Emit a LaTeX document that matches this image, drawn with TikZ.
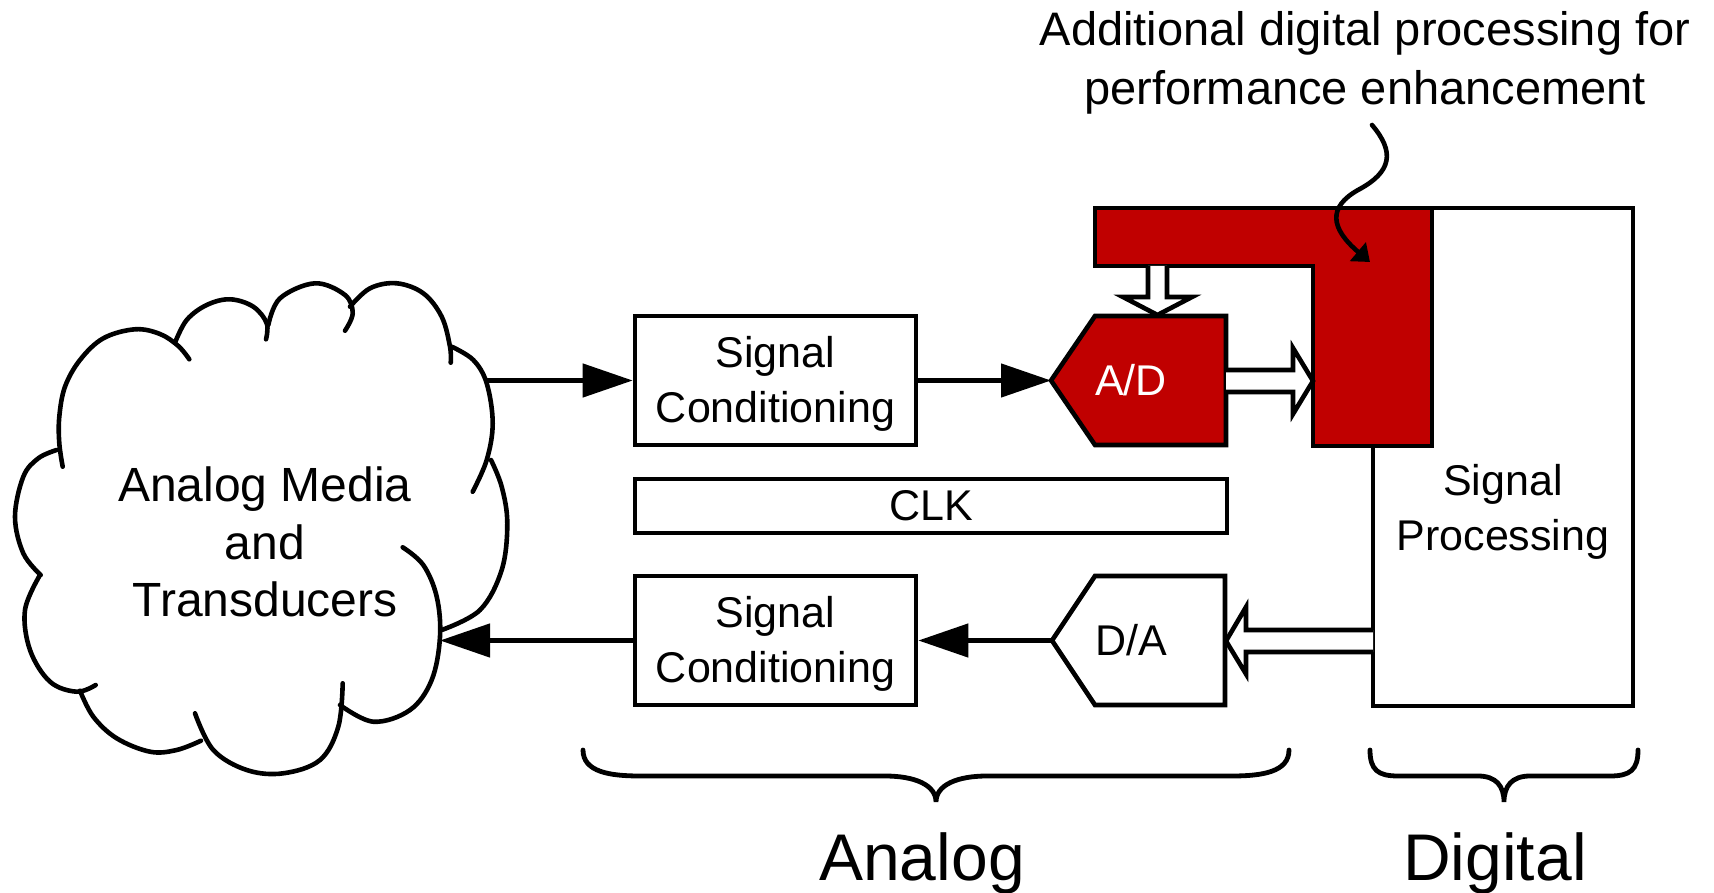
\documentclass[tikz,border=0pt]{standalone}
\usepackage{fontspec}
\setmainfont{Liberation Sans}
\usetikzlibrary{arrows.meta}
\definecolor{convred}{RGB}{192,0,0}
\tikzset{
  px/.style={x=0.5pt,y=-0.5pt},
  lw/.style={line width=2.3pt},
  box/.style={draw, fill=white, lw, inner sep=0pt},
  txt/.style={font=\fontsize{21.5}{27.5}\selectfont, align=center, inner sep=0pt},
  cloudtxt/.style={font=\fontsize{24}{28.75}\selectfont, align=center, inner sep=0pt},
  notetxt/.style={font=\fontsize{23.5}{29.5}\selectfont, align=center, inner sep=0pt},
  bigtxt/.style={font=\fontsize{33}{40}\selectfont, inner sep=0pt},
  signalarrow/.style={lw, -{Triangle[length=25pt,width=16.5pt]}},
  widearrow/.style={draw, fill=white, lw, line join=miter},
  blockshape/.style={draw, lw, line join=miter},
  bracepath/.style={line width=2.4pt, line cap=round},
  cloudline/.style={lw, line cap=round},
}
\begin{document}
\begin{tikzpicture}[px]
\useasboundingbox (0,0) rectangle (1714,893);

% ---------- cloud: analog media and transducers ----------
\begin{scope}[cloudline]
\draw plot[smooth,tension=0.6] coordinates {(62.7,466.7) (59.3,443.3) (59.3,416.7) (65,386.7) (80,360) (103.3,338.3) (135,329.3) (160,334) (178.3,346) (189.3,359.3)};
\draw plot[smooth,tension=0.6] coordinates {(175,342.7) (186.7,320) (206.7,305) (230,299.3) (253.3,306.7) (266.7,323.3) (266,339.3)};
\draw plot[smooth,tension=0.6] coordinates {(268.3,325) (280,298.3) (315,283.3) (345,295) (352.7,313.3) (345,330.7)};
\draw plot[smooth,tension=0.6] coordinates {(350,306.7) (370,288.3) (396.7,283.3) (423.3,293.3) (441.7,316.7) (450,346.7) (450.7,362.7)};
\draw plot[smooth,tension=0.6] coordinates {(451.7,346.7) (473.3,360) (486.7,383.3) (492.7,423.3) (486.7,460) (472.7,491.7)};
\draw plot[smooth,tension=0.6] coordinates {(491,460) (501.7,486.7) (507.3,523.3) (501.7,570) (480,610) (441.7,630)};
\draw plot[smooth,tension=0.6] coordinates {(402.7,547.3) (423.3,565) (436.7,596.7) (440,636.7) (431.7,680) (410,710) (373.3,721.7) (340,705)};
\draw plot[smooth,tension=0.6] coordinates {(342.7,683.3) (338.3,726.7) (320,760) (283.3,773.3) (246.7,770) (213.3,750) (195,713.3)};
\draw plot[smooth,tension=0.6] coordinates {(201,740.7) (176.7,750) (150,751.7) (116.7,738.3) (93.3,716.7) (80,690.7)};
\draw plot[smooth,tension=0.6] coordinates {(95.7,685) (76.7,691.7) (50,681.7) (30,650) (25,610) (40,575)};
\draw plot[smooth,tension=0.6] coordinates {(40.7,575) (23.3,553.3) (15,516.7) (23.3,476.7) (38.3,458.3) (56.7,450)};
\end{scope}
\node[cloudtxt] (media) at (265,542) {Analog Media\\and\\Transducers};
\coordinate (cloudout) at (487,380.5);
\coordinate (cloudin) at (440,640.5);

% ---------- analog blocks ----------
\node[box, minimum width=140.5pt, minimum height=64.5pt] (sc1) at (775.5,380.5) {};
\node[txt] (sc1text) at (775.5,383.5) {Signal\\Conditioning};
\node[box, minimum width=140.5pt, minimum height=64.5pt] (sc2) at (775.5,640.5) {};
\node[txt] (sc2text) at (775.5,643.5) {Signal\\Conditioning};
\node[box, txt, minimum width=296pt, minimum height=27pt] (clk) at (931,506) {CLK};

% ---------- digital signal processing ----------
\node[box, minimum width=130pt, minimum height=249pt] (sp) at (1503,457) {};
\node[txt] (sptext) at (1503,512) {Signal\\Processing};

% enhancement block (red L)
\draw[blockshape, fill=convred] (1095,208) -- (1432,208) -- (1432,446) -- (1313,446) -- (1313,266) -- (1095,266) -- cycle;

% converters
\draw[blockshape, fill=convred] (1051,380.5) -- (1095,316) -- (1226,316) -- (1226,445) -- (1095,445) -- cycle;
\node[txt, text=white] (ad) at (1131,380.5) {A/D};
\coordinate (adin) at (1051,380.5);
\draw[blockshape] (1052,640.5) -- (1095,576) -- (1225,576) -- (1225,705) -- (1095,705) -- cycle;
\node[txt] (da) at (1131,640.5) {D/A};
\coordinate (daout) at (1052,640.5);

% wide (data bus) arrows
\draw[widearrow] (1148,266) -- (1148,297) -- (1123,297) -- (1157.5,315) -- (1192,297) -- (1167,297) -- (1167,266);
\draw[widearrow] (1226,370) -- (1293,370) -- (1293,348) -- (1313,381) -- (1293,414) -- (1293,392) -- (1226,392);
\draw[widearrow] (1373,630) -- (1246,630) -- (1246,607) -- (1226,641) -- (1246,674) -- (1246,652) -- (1373,652);

% analog signal connectors
\draw[signalarrow] (cloudout) -- (sc1.west);
\draw[signalarrow] (sc1.east) -- (adin);
\draw[signalarrow] (daout) -- (sc2.east);
\draw[signalarrow] (sc2.west) -- (cloudin);

% annotation
\node[notetxt] (note) at (1365,63) {Additional digital processing for\\performance enhancement};
\coordinate (sqstart) at (1372,125);
\coordinate (sqend) at (1370,262);
\draw[lw, line cap=round, -{Triangle[length=8pt,width=12pt]}] (sqstart) .. controls (1395,152) and (1392,172) .. (1358,190) .. controls (1328,207) and (1330,228) .. (sqend);

% braces
\draw[bracepath] (583,750) .. controls (583,772) and (610,776) .. (640,776) -- (885,776) .. controls (915,776) and (936,785) .. (936,802) .. controls (936,785) and (957,776) .. (987,776) -- (1232,776) .. controls (1262,776) and (1289,772) .. (1289,750);
\draw[bracepath] (1370,750) .. controls (1370,770) and (1378,776) .. (1398,776) -- (1478,776) .. controls (1496,776) and (1504,786) .. (1504,802) .. controls (1504,786) and (1512,776) .. (1530,776) -- (1610,776) .. controls (1630,776) and (1638,770) .. (1638,750);
\node[bigtxt, anchor=base] (analog) at (922,880) {Analog};
\node[bigtxt, anchor=base] (digital) at (1495,880) {Digital};
\end{tikzpicture}
\end{document}
